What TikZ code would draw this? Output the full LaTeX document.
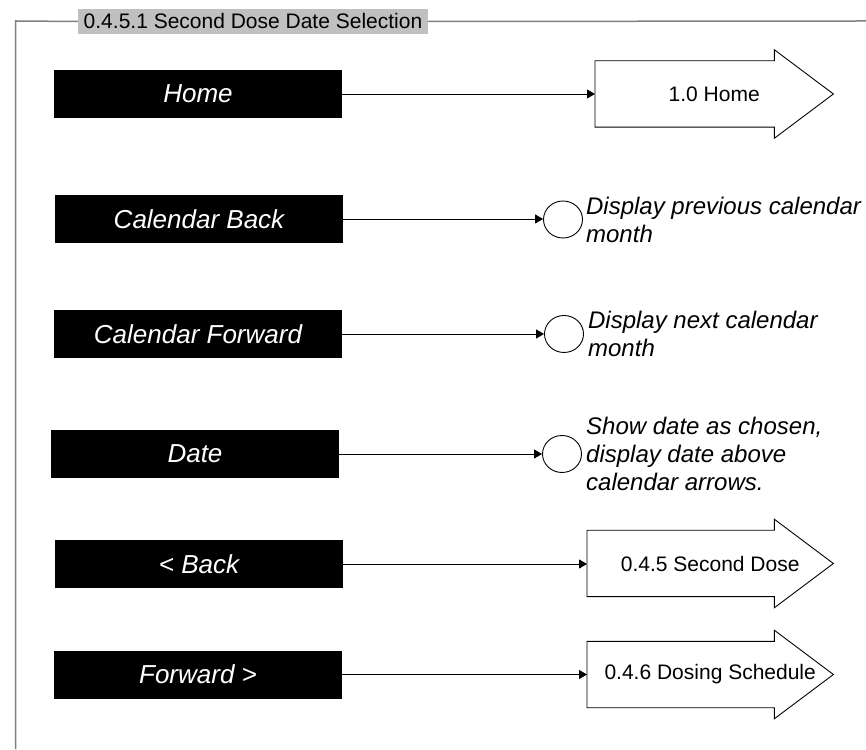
\documentclass[tikz,border=0pt]{standalone}
\usepackage{fontspec}
\setmainfont{Liberation Sans}
\usetikzlibrary{arrows.meta,shapes.geometric,calc}
\definecolor{titlegray}{HTML}{C0C0C0}
\definecolor{framegray}{HTML}{808080}
\begin{document}
\begin{tikzpicture}[x=1pt,y=1pt,
  btn/.style={fill=black,text=white,minimum width=288pt,minimum height=48pt,inner sep=0pt,
    font=\fontsize{26}{30}\selectfont\itshape},
  target/.style={minimum width=246pt,minimum height=66pt,inner sep=0pt,anchor=west,
    font=\fontsize{21}{24}\selectfont},
  action/.style={draw=black,ellipse,line width=0.9pt,minimum width=39pt,minimum height=37pt,inner sep=0pt},
  desc/.style={anchor=west,inner sep=0pt,align=left,font=\fontsize{24}{28}\selectfont\itshape},
  link/.style={draw=black,line width=0.9pt,-{Triangle[length=8pt,width=9pt]}},
  outline/.style={draw=black,line width=0.9pt}
]
\useasboundingbox (0,0) rectangle (866,749);
% frame
\node[fill=titlegray,minimum width=350pt,minimum height=25pt,inner sep=0pt,
  font=\fontsize{21}{24}\selectfont] (title) at (253,727.5) {0.4.5.1 Second Dose Date Selection};
\coordinate (fl) at (15.5,728);
\coordinate (fb) at (15.5,0);
\coordinate (fr) at (866,728);
\draw[framegray,line width=1.5pt] (fb) -- (fl) -- (title.west);
\draw[framegray,line width=1.5pt] (title.east) -- (fr);

% buttons
\node[btn] (home) at (198,655) {Home};
\node[btn] (calback) at (199,530) {Calendar Back};
\node[btn] (calfwd) at (198,415) {Calendar Forward};
\node[btn] (date) at (195,295) {Date};
\node[btn] (back) at (199,185) {< Back};
\node[btn] (fwd) at (198,74.5) {Forward >};

% targets
\node[target,minimum width=238pt] (thome) at (595,655) {1.0 Home};
\node[target] (tback) at (587,185.5) {0.4.5 Second Dose};
\node[target] (tfwd) at (587,74.5) {0.4.6 Dosing Schedule};
\foreach \n in {thome,tback,tfwd}{
  \draw[outline] (\n.north west) -- ([xshift=-59pt]\n.north east) -- ([xshift=-59pt,yshift=11pt]\n.north east)
    -- (\n.east) -- ([xshift=-59pt,yshift=-11pt]\n.south east) -- ([xshift=-59pt]\n.south east)
    -- (\n.south west) -- cycle;
}

% actions
\node[action] (acb) at (563,529.5) {};
\node[action] (acf) at (564,415) {};
\node[action] (adt) at (562,295) {};
\node[desc] (dcb) at ([xshift=3pt]acb.east) {Display previous calendar\\month};
\node[desc] (dcf) at ([xshift=4pt]acf.east) {Display next calendar\\month};
\node[desc] (ddt) at ([xshift=4pt]adt.east) {Show date as chosen,\\display date above\\calendar arrows.};

% connectors
\draw[link] (home.east) -- (home.east -| thome.west);
\draw[link] (calback.east) -- (calback.east -| acb.west);
\draw[link] (calfwd.east) -- (calfwd.east -| acf.west);
\draw[link] (date.east) -- (date.east -| adt.west);
\draw[link] (back.east) -- (back.east -| tback.west);
\draw[link] (fwd.east) -- (fwd.east -| tfwd.west);
\end{tikzpicture}
\end{document}
